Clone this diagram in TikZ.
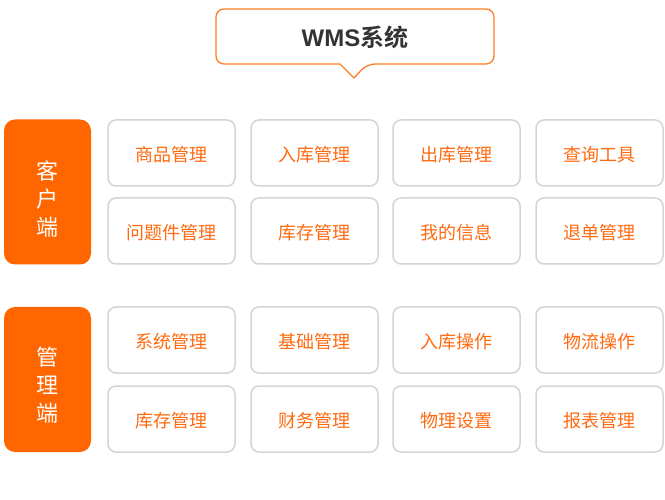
\documentclass[tikz,border=0pt]{standalone}
\usepackage{fontspec}
\newfontfamily\cjk{Noto Sans CJK SC}
\newfontfamily\cjkbold{Noto Sans CJK SC Bold}
\newfontfamily\latinbold{Liberation Sans Bold}
\definecolor{wmsorange}{HTML}{FF6600}
\definecolor{celltext}{HTML}{FF6A10}
\definecolor{cellborder}{HTML}{D4D4D4}
\definecolor{titlegray}{HTML}{333333}
\begin{document}
\begin{tikzpicture}[x=1pt,y=-1pt,
  cell/.style={draw=cellborder,line width=1.5pt,fill=white,rounded corners=8pt,
    minimum width=127pt,minimum height=66pt,inner sep=0pt,
    text height=18pt,text depth=1pt,
    font=\cjk\fontsize{18}{20}\selectfont,text=celltext},
  side/.style={fill=wmsorange,rounded corners=11pt,minimum width=87pt,minimum height=145pt,
    inner sep=0pt},
  sidetext/.style={text=white,align=center,font=\cjk\fontsize{22}{28}\selectfont},
  callout/.style={draw=wmsorange!85,line width=1.3pt,fill=white,rounded corners=8pt}
]
\useasboundingbox (0,0) rectangle (665,500);

% title callout with its pointer
\draw[callout] (340,64) -- (216,64) -- (216,9) -- (494,9) -- (494,64) -- (367,64)
  [sharp corners] -- (354,78) -- cycle;
\node[text=titlegray] (title) at (355,37)
  {\fontsize{24}{26}\selectfont{\latinbold WMS}{\cjkbold 系统}};

% side labels
\node[side] (client) at (47.5,192) {};
\node[sidetext] (clienttxt) at (47.5,199) {客\\户\\端};
\node[side] (admin) at (47.5,379.5) {};
\node[sidetext] (admintxt) at (47.5,385) {管\\理\\端};

% client-side modules
\node[cell] (c11) at (171.5,153) {商品管理};
\node[cell] (c12) at (314.5,153) {入库管理};
\node[cell] (c13) at (456.5,153) {出库管理};
\node[cell] (c14) at (599.5,153) {查询工具};
\node[cell] (c21) at (171.5,231) {问题件管理};
\node[cell] (c22) at (314.5,231) {库存管理};
\node[cell] (c23) at (456.5,231) {我的信息};
\node[cell] (c24) at (599.5,231) {退单管理};

% admin-side modules
\node[cell] (a11) at (171.5,340) {系统管理};
\node[cell] (a12) at (314.5,340) {基础管理};
\node[cell] (a13) at (456.5,340) {入库操作};
\node[cell] (a14) at (599.5,340) {物流操作};
\node[cell] (a21) at (171.5,419) {库存管理};
\node[cell] (a22) at (314.5,419) {财务管理};
\node[cell] (a23) at (456.5,419) {物理设置};
\node[cell] (a24) at (599.5,419) {报表管理};
\end{tikzpicture}
\end{document}
